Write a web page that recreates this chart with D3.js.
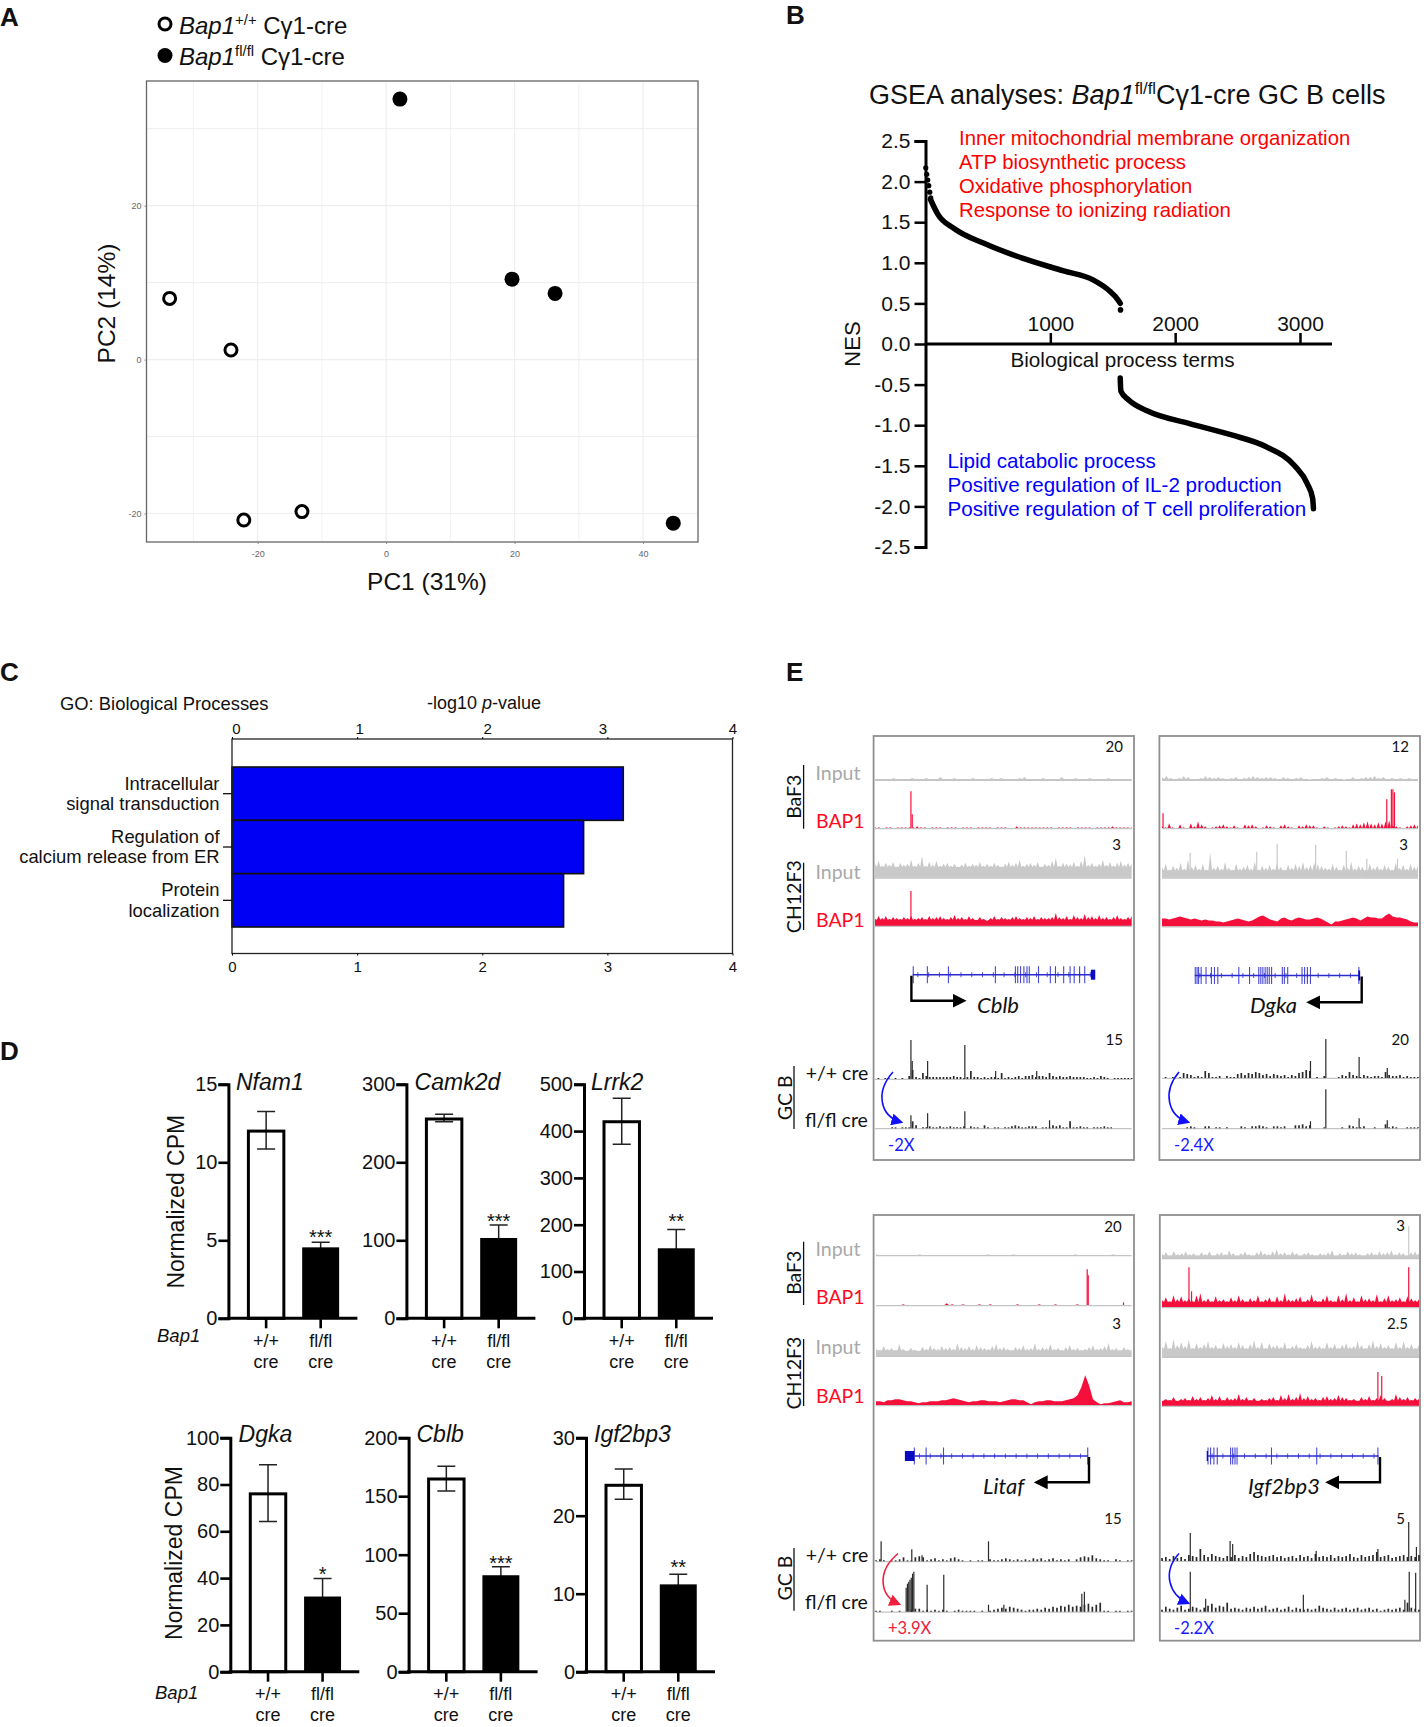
<!DOCTYPE html>
<html lang="en">
<head>
  <meta charset="UTF-8" />
  <title>Bap1 GC B cell figure</title>
  <script src="https://d3js.org/d3.v7.min.js"></script>
  <style>
    body { margin: 0; background: #fff; }
    svg { display: block; }
    text { font-family: "Liberation Sans", Arial, sans-serif; fill: #111; }
    .cal text, text.cal { font-family: Lato, "Open Sans", sans-serif; }
  </style>
</head>
<body>
  <svg id="fig" width="1428" height="1727"></svg>
  <script>
    // ---- panel A: PCA
    const pcaWtX = [-33.7, -24.15, -22.15, -13.1];
    const pcaWtY = [7.95, 1.25, -20.85, -19.75];
    const pcaKoX = [2.15, 19.6, 26.3, 44.7];
    const pcaKoY = [33.85, 10.45, 8.6, -21.25];
    const pcaXTicks = [-20, 0, 20, 40];
    const pcaYTicks = [-20, 0, 20];
    const pcaXGrid = [-30, -20, -10, 0, 10, 20, 30, 40];
    const pcaYGrid = [-20, -10, 0, 10, 20, 30];

    // ---- panel B: GSEA ranked NES
    const nesPosRank = [40, 98, 232, 468, 770, 1107, 1342, 1477, 1544, 1560];
    const nesPosVal = [1.78, 1.6, 1.42, 1.24, 1.06, 0.9, 0.79, 0.65, 0.54, 0.5];
    const nesNegRank = [1560, 1565, 1628, 1779, 2115, 2452, 2721, 2957, 3058, 3101, 3108];
    const nesNegVal = [-0.42, -0.58, -0.69, -0.825, -0.98, -1.12, -1.26, -1.5, -1.72, -1.9, -2.03];
    const nesTopDots = [2.17, 2.09, 2.02, 1.95, 1.87, 1.8];
    const nesYTicks = [2.5, 2, 1.5, 1, 0.5, 0, -0.5, -1, -1.5, -2, -2.5];
    const nesXTicks = [1000, 2000, 3000];
    const upTerms = ["Inner mitochondrial membrane organization", "ATP biosynthetic process", "Oxidative phosphorylation", "Response to ionizing radiation"];
    const downTerms = ["Lipid catabolic process", "Positive regulation of IL-2 production", "Positive regulation of T cell proliferation"];

    // ---- panel C: GO terms
    const goTerms = [["Intracellular", "signal transduction"], ["Regulation of", "calcium release from ER"], ["Protein", "localization"]];
    const goValues = [3.127, 2.81, 2.65];
    const goTicks = [0, 1, 2, 3, 4];

    // ---- panel D: normalized CPM bars
    const geneNames = ["Nfam1", "Camk2d", "Lrrk2", "Dgka", "Cblb", "Igf2bp3"];
    const geneMax = [15, 300, 500, 100, 200, 30];
    const geneTicks = [[0, 5, 10, 15], [0, 100, 200, 300], [0, 100, 200, 300, 400, 500], [0, 20, 40, 60, 80, 100], [0, 50, 100, 150, 200], [0, 10, 20, 30]];
    const wtMean = [12, 255.5, 420, 76, 164.7, 23.9];
    const wtHigh = [13.25, 261.5, 470, 88.4, 175.5, 26];
    const wtLow = [10.85, 252, 372, 64.2, 154.5, 22.1];
    const koMean = [4.5, 102, 148, 31.8, 81.8, 11.1];
    const koHigh = [4.87, 119.6, 190, 39.8, 89.7, 12.5];
    const koLow = [4.13, 84, 106, 24, 74, 9.7];
    const geneStars = ["***", "***", "**", "*", "***", "**"];

    // ---- panel E: tracks (heights in signal units, evenly spaced along the window)
    const cblbBafInput = [1,1,1,1,2,1,1,1,2,1,1,2,1,1,3,1,1,2,1,1,1,2,1,1,1,2,1,2,1,1,1,2,3,1,1,1,2,1,1,1,3,1,1,2,1,1,2,1,1,1,2,1,1,1,1,1];
    const cblbBafBap1 = [1,1,0,1,1,0,1,1,1,1,1,2,1,1,0,1,1,1,0,1,1,1,0,1,1,1,0,1,1,1,1,0,1,1,1,0,0,2,1,1,1,1,1,1,1,1,1,0,1,1,1,1,0,1,1,1,1,0,1,1,1,1,2,1,1,1,1,1];
    const cblbBafBap1Peaks = [[14, 37], [14.5, 14]];
    const cblbChInput = [14,17,12,15,13,16,11,15,13,14,18,12,15,22,12,16,13,17,12,14,15,12,14,11,13,15,12,14,13,16,12,14,12,15,13,11,14,16,13,15,18,12,14,15,13,16,11,14,13,17,20,12,15,14,13,16,12,17,23,13,15,12,14,18,13,16,12,15,17,13,15,14];
    const cblbChBap1 = [7,10,8,10,7,9,8,7,9,8,10,7,8,9,7,10,8,9,10,8,7,9,11,8,9,7,10,8,6,9,7,5,8,10,7,9,8,7,9,10,8,7,9,8,10,7,9,8,8,9,13,9,8,10,7,11,9,8,12,9,10,8,11,8,9,7,9,11,8,7,9,10];
    const cblbChBap1Peaks = [[14, 35]];
    const cblbGcWt = [0,1,0,1,1,0,1,0,1,0,3,9,2,1,6,3,2,2,2,2,2,2,2,3,2,2,1,2,8,2,2,1,2,1,2,2,1,6,1,2,1,2,3,1,3,3,4,2,3,3,2,6,3,2,3,2,2,3,2,2,2,2,1,1,2,1,3,2,1,0,1,1,1,1,1,1];
    const cblbGcWtPeaks = [[14, 39], [14.5, 18], [20.5, 18], [35, 34], [47, 8], [63, 8]];
    const cblbGcKo = [0,0,0,0,0,1,1,0,1,1,1,7,3,0,1,1,2,1,1,2,1,1,2,1,1,1,2,0,2,1,1,0,3,1,0,1,1,0,1,1,2,3,2,1,1,2,2,2,0,1,1,1,3,2,3,1,1,7,1,1,2,1,1,0,1,1,1,2,1,1,0,0,0,0,0,0];
    const cblbGcKoPeaks = [[14, 13], [20.5, 15], [35, 17], [68, 8]];

    const dgkaBafInput = [3,4,2,1,2,4,3,1,1,2,4,3,2,3,2,1,2,3,1,2,3,4,3,2,3,3,2,1,3,2,1,2,3,1,0,1,1,2,3,1,2,1,0,1,3,1,2,3,3,4,2,3,1,2,1,2,1,2,1,1];
    const dgkaBafBap1 = [2,1,5,1,0,4,1,0,5,2,7,4,2,0,1,2,3,4,2,1,3,1,0,4,3,4,2,0,1,3,2,1,0,3,4,2,1,0,3,2,4,3,3,1,0,2,1,0,1,2,3,2,1,4,5,4,6,7,5,4,6,5,7,8,3,2,1,0,2,3,4,3];
    const dgkaBafBap1Peaks = [[0.4, 15], [87.8, 29], [89.6, 39], [90.2, 39], [90.8, 36]];
    const dgkaChInput = [10,14,8,12,10,15,9,18,11,13,9,14,8,25,10,12,9,16,10,8,14,9,11,13,9,16,8,12,10,13,9,15,11,8,13,10,14,12,16,11,13,15,14,12,10,9,14,11,8,13,10,16,9,12,11,8,14,10,12,9,13,11,8,15,10,13,9,14,11,12];
    const dgkaChInputPeaks = [[11, 25], [37, 26], [45, 34], [60, 33], [72, 27], [80, 19], [92, 19]];
    const dgkaChBap1 = [8,8,7,8,9,10,9,8,7,8,7,6,7,6,6,5,5,4,5,6,7,8,7,6,5,6,8,10,11,9,7,6,5,8,9,7,6,8,9,8,7,7,8,9,8,6,4,2,5,5,6,7,8,9,8,6,8,10,9,9,8,8,11,13,10,9,9,8,7,5,4,4];
    const dgkaGcWt = [0,1,0,1,0,1,5,4,3,1,2,1,7,5,1,1,2,0,2,1,1,4,5,3,5,4,6,5,3,4,2,4,3,2,3,1,3,2,5,6,8,7,0,1,0,2,0,0,0,1,3,2,6,3,2,1,3,2,1,2,2,1,6,3,2,2,3,1,2,1,1,1];
    const dgkaGcWtPeaks = [[58, 17], [64, 39], [77, 21], [88, 10]];
    const dgkaGcKo = [0,0,0,0,0,0,0,1,2,1,0,0,2,2,0,1,1,0,1,0,0,0,2,1,0,2,2,3,2,1,0,2,2,1,2,0,0,3,3,4,2,3,0,0,0,1,0,0,0,0,1,0,3,2,1,1,2,0,0,1,0,0,4,1,2,1,0,0,1,1,1,1];
    const dgkaGcKoPeaks = [[58, 7], [64, 39], [77, 10], [88, 8]];

    const litafBafInput = [1,0,0,0,0,0,0,1,0,0,0,0,0,0,0,0,0,0,1,0,0,0,1,0,0,0,0,0,0,0,0,0,1,0,0,0,0,0,1,0,0,0];
    const litafBafBap1 = [0,0,0,0,0,1,0,0,0,0,0,0,0,2,1,0,1,0,0,1,0,1,0,0,0,0,1,0,0,0,1,0,0,1,0,0,0,1,0,0,0,0,0,0,0,0,0,0];
    const litafBafBap1Peaks = [[82.6, 36], [83, 30], [96.8, 3]];
    const litafChInput = [7,6,10,7,8,6,12,7,5,8,6,5,9,7,11,8,7,10,8,9,7,13,9,8,10,7,11,9,8,7,10,12,8,9,7,6,9,8,11,7,8,13,7,9,8,12,7,8,6,9,11,7,8,6,7,9,11,7,8,10,13,7,8,6,9,7,6];
    const litafChBap1 = [4,4,3,5,5,6,6,5,4,4,3,2,3,3,4,4,4,5,5,6,7,6,5,4,3,4,4,5,5,4,4,4,3,4,5,6,6,5,5,3,1,3,4,4,5,5,4,4,4,5,6,7,10,18,30,20,6,3,1,2,2,3,4,5,3,3,4];
    const litafGcWt = [1,2,1,0,1,1,2,4,1,1,4,5,4,1,2,3,1,2,1,3,4,2,1,0,1,0,1,1,0,2,1,1,2,3,2,1,2,1,2,1,3,2,3,1,2,3,1,2,1,2,0,2,4,5,4,6,3,2,1,1,0,2,1,0,1,1];
    const litafGcWtPeaks = [[2, 20], [14, 12], [44, 20], [18, 6]];
    const litafGcKo = [1,1,0,0,1,0,1,0,0,2,3,3,1,2,1,2,1,2,1,0,1,2,1,1,1,1,0,1,0,1,2,3,4,3,5,4,3,2,1,2,2,3,2,4,3,5,4,6,5,7,5,6,5,7,8,5,7,9,1,1,0,1,1,0,1,1];
    const litafGcKoPeaks = [[11.8, 24], [12.3, 28], [12.8, 30], [13.3, 32], [13.8, 34], [14.3, 38], [14.8, 40], [20, 27], [26.5, 37], [44, 7], [50, 7], [80.5, 18], [81.5, 20]];

    const igfBafInput = [4,6,3,7,4,5,7,4,5,3,6,4,7,3,5,6,4,8,5,3,5,7,4,3,6,8,5,4,7,9,5,6,4,7,5,3,5,6,4,3,5,4,6,8,3,5,4,7,5,6,4,3,5,6,4,7,5,6,8,4,6,5,3,6,7,5];
    const igfBafInputPeaks = [[96, 32]];
    const igfBafBap1 = [7,10,6,12,8,11,7,9,6,12,14,7,9,6,11,7,8,6,10,7,12,8,6,9,7,12,6,8,10,6,11,7,14,8,7,9,11,6,8,13,7,6,9,12,7,6,12,8,14,7,10,6,12,8,9,7,13,6,9,12,7,8,10,6,11,9,7,8];
    const igfBafBap1Peaks = [[10.5, 40], [11.5, 16], [96, 40]];
    const igfChInput = [10,16,9,18,12,15,11,17,9,14,10,13,16,10,12,9,14,11,13,10,15,12,9,13,17,10,15,9,14,11,12,10,15,9,11,13,10,9,12,16,10,11,9,15,10,13,9,12,14,10,11,16,12,9,13,17,11,14,10,12,9,15,10,16,10,13,9,12];
    const igfChBap1 = [5,7,6,9,5,7,8,6,10,7,9,6,8,11,7,10,6,9,7,8,12,7,9,6,8,5,7,6,8,9,6,11,8,12,7,9,13,8,10,7,8,6,9,10,7,8,11,9,8,6,7,5,9,7,10,6,8,11,8,5,7,12,9,7,9,6,8,7];
    const igfChBap1Peaks = [[84, 34], [85.5, 30]];
    const igfGcWt = [3,4,2,5,3,4,2,6,5,4,12,6,4,7,5,4,3,5,4,6,3,5,4,7,9,6,5,4,5,6,4,5,3,4,5,3,6,4,5,3,7,4,5,4,6,3,5,4,5,7,4,3,6,4,5,6,9,4,5,6,3,4,5,6,4,5,4,6];
    const igfGcWtPeaks = [[11, 28], [26.5, 20], [27.5, 17], [60, 10], [84, 12], [96, 39], [99, 14]];
    const igfGcKo = [2,5,3,2,4,6,2,3,5,4,2,4,6,8,4,6,5,9,3,4,3,2,4,3,5,3,4,6,2,3,4,2,3,5,2,4,3,2,3,2,3,6,4,3,2,4,2,3,4,2,3,4,2,3,4,2,3,1,2,3,2,3,4,2,9,4,3,2];
    const igfGcKoPeaks = [[11, 40], [17, 13], [55, 17], [94.5, 12], [96.2, 40], [98.7, 39]];

    // gene models: exon positions as percent of the track window
    const cblbExons = [14.9, 20.4, 28.6, 46.9, 54.7, 55.6, 56.7, 58, 59.2, 60.1, 63.7, 68.3, 70.3, 73.5, 76, 77.6, 79.7, 81.7];
    const dgkaExons = [13, 13.7, 14.3, 15.3, 17.2, 19.3, 20.5, 21.8, 30, 34.2, 37.8, 38.6, 39.4, 40.3, 41.1, 41.9, 42.8, 47, 47.8, 49.1, 54.7, 55.7, 56.8, 58, 76.9];
    const litafExons = [15, 19.6, 26.4, 82.8];
    const igfExons = [17.9, 18.9, 20.2, 21.5, 26.7, 27.5, 28.4, 29.2, 42.6, 60.2, 84];

    const svg = d3.select("#fig");
    const hyphen = f => d => f(d).replace("\u2212", "-");

    function label(g, x, y, str, size, opts) {
      opts = opts || {};
      const t = g.append("text")
        .attr("x", x).attr("y", y)
        .attr("font-size", size)
        .attr("dy", "0.35em")
        .attr("text-anchor", opts.anchor || "start")
        .text(str);
      if (opts.italic) t.attr("font-style", "italic");
      if (opts.weight) t.attr("font-weight", opts.weight);
      if (opts.color) t.style("fill", opts.color);
      if (opts.cls) t.attr("class", opts.cls);
      if (opts.rotate) t.attr("transform", "rotate(-90 " + x + " " + y + ")");
      return t;
    }

    // baseline text with italic / superscript runs
    function rich(g, x, y, size, runs) {
      const t = g.append("text").attr("x", x).attr("y", y).attr("font-size", size);
      let up = 0;
      runs.forEach(r => {
        const s = t.append("tspan").text(r.t);
        if (r.i) s.attr("font-style", "italic");
        if (r.sup) {
          s.attr("font-size", size * 0.62).attr("dy", -size * 0.36);
          up = size * 0.36;
        } else if (up) {
          s.attr("dy", up);
          up = 0;
        }
      });
      return t;
    }

    // ---------------- panel letters
    [["A", 0, 17], ["B", 786, 15], ["C", 0, 672], ["D", 0, 1051], ["E", 786, 672]].forEach(d => {
      label(svg, d[1], d[2], d[0], 26, { weight: "bold" });
    });

    // ---------------- A
    (function () {
      const g = svg.append("g");
      const x = d3.scaleLinear().domain([-37.3, 48.55]).range([146.5, 698]);
      const y = d3.scaleLinear().domain([-23.7, 36.2]).range([542, 81]);
      g.append("g").selectAll("line").data(pcaXGrid).join("line")
        .attr("x1", d => x(d)).attr("x2", d => x(d)).attr("y1", y.range()[0]).attr("y2", y.range()[1])
        .attr("stroke", "#eeeeee").attr("stroke-width", d => d % 20 === 0 ? 1.2 : 0.8);
      g.append("g").selectAll("line").data(pcaYGrid).join("line")
        .attr("y1", d => y(d)).attr("y2", d => y(d)).attr("x1", x.range()[0]).attr("x2", x.range()[1])
        .attr("stroke", "#eeeeee").attr("stroke-width", d => d % 20 === 0 ? 1.2 : 1);
      g.append("rect").attr("x", 146.5).attr("y", 81).attr("width", 551.5).attr("height", 461)
        .attr("fill", "none").attr("stroke", "#666").attr("stroke-width", 1.3);

      const xAxis = g.append("g").attr("transform", "translate(0,542)")
        .call(d3.axisBottom(x).tickValues(pcaXTicks).tickFormat(hyphen(d3.format("d"))).tickSize(2).tickPadding(7));
      const yAxis = g.append("g").attr("transform", "translate(146.5,0)")
        .call(d3.axisLeft(y).tickValues(pcaYTicks).tickFormat(hyphen(d3.format("d"))).tickSize(2).tickPadding(3));
      [xAxis, yAxis].forEach(a => {
        a.select(".domain").remove();
        a.selectAll("line").attr("stroke", "#888");
        a.selectAll("text").attr("font-size", 9).style("fill", "#666").attr("font-family", "Liberation Sans");
      });

      g.append("g").selectAll("circle").data(pcaWtX).join("circle")
        .attr("cx", d => x(d)).attr("cy", (d, i) => y(pcaWtY[i])).attr("r", 6)
        .attr("fill", "#fff").attr("stroke", "#000").attr("stroke-width", 3);
      g.append("g").selectAll("circle").data(pcaKoX).join("circle")
        .attr("cx", d => x(d)).attr("cy", (d, i) => y(pcaKoY[i])).attr("r", 7.5).attr("fill", "#000");

      g.append("circle").attr("cx", 165).attr("cy", 24).attr("r", 6).attr("fill", "#fff").attr("stroke", "#000").attr("stroke-width", 3);
      g.append("circle").attr("cx", 165).attr("cy", 55.5).attr("r", 7.5).attr("fill", "#000");
      rich(g, 179, 34, 24, [{ t: "Bap1", i: 1 }, { t: "+/+", sup: 1 }, { t: " Cγ1-cre" }]);
      rich(g, 179, 65, 24, [{ t: "Bap1", i: 1 }, { t: "fl/fl", sup: 1 }, { t: " Cγ1-cre" }]);
      label(g, 427, 581, "PC1 (31%)", 24.5, { anchor: "middle" });
      label(g, 106, 303.5, "PC2 (14%)", 24.5, { anchor: "middle", rotate: true });
    })();

    // ---------------- B
    (function () {
      const g = svg.append("g");
      const x = d3.scaleLinear().domain([0, 3000]).range([925.5, 1300]);
      const y = d3.scaleLinear().domain([-2.5, 2.5]).range([547, 141]);
      const line = d3.line().x(d => x(d[0])).y(d => y(d[1])).curve(d3.curveMonotoneX);

      g.append("path").attr("d", line(nesPosRank.map((r, i) => [r, nesPosVal[i]])))
        .attr("fill", "none").attr("stroke", "#000").attr("stroke-width", 5.5).attr("stroke-linecap", "round");
      g.append("path").attr("d", line(nesNegRank.map((r, i) => [r, nesNegVal[i]])))
        .attr("fill", "none").attr("stroke", "#000").attr("stroke-width", 5.5).attr("stroke-linecap", "round");
      g.append("g").selectAll("circle").data(nesTopDots).join("circle")
        .attr("cx", (d, i) => x(2 + i * 8)).attr("cy", d => y(d)).attr("r", 2.6).attr("fill", "#000");
      g.append("circle").attr("cx", x(1562)).attr("cy", y(0.42)).attr("r", 2.8).attr("fill", "#000");

      const yAxis = g.append("g").attr("transform", "translate(925.5,0)")
        .call(d3.axisLeft(y).tickValues(nesYTicks).tickFormat(hyphen(d3.format(".1f"))).tickSize(11).tickPadding(4));
      yAxis.select(".domain").attr("stroke", "#000").attr("stroke-width", 3);
      const xAxis = g.append("g").attr("transform", "translate(0," + y(0) + ")")
        .call(d3.axisTop(x).tickValues(nesXTicks).tickFormat(d3.format("d")).tickSize(11).tickPadding(2));
      xAxis.select(".domain").remove();
      g.append("line").attr("x1", 925.5).attr("x2", 1332).attr("y1", y(0)).attr("y2", y(0)).attr("stroke", "#000").attr("stroke-width", 3);
      [xAxis, yAxis].forEach(a => {
        a.selectAll(".tick line").attr("stroke", "#000").attr("stroke-width", 2.5);
        a.selectAll("text").attr("font-size", 21).style("fill", "#111").attr("font-family", "Liberation Sans");
      });

      rich(g, 869, 104, 27, [{ t: "GSEA analyses: " }, { t: "Bap1", i: 1 }, { t: "fl/fl", sup: 1 }, { t: "Cγ1-cre GC B cells" }]);
      label(g, 852, 344, "NES", 22, { anchor: "middle", rotate: true });
      label(g, 1122.5, 360, "Biological process terms", 20.7, { anchor: "middle" });
      const upY = [138, 162, 186, 210];
      upTerms.forEach((t, i) => label(g, 959, upY[i], t, 20.3, { color: "#ff0000" }));
      const downY = [461, 485, 509];
      downTerms.forEach((t, i) => label(g, 947.5, downY[i], t, 20.6, { color: "#0000ff" }));
    })();

    // ---------------- C
    (function () {
      const g = svg.append("g");
      const x = d3.scaleLinear().domain([0, 4]).range([232, 732.5]);
      const y = d3.scaleBand().domain(goTerms.map(d => d[0])).range([767, 927]).padding(0);
      g.append("g").selectAll("rect").data(goValues).join("rect")
        .attr("x", x(0)).attr("y", (d, i) => y(goTerms[i][0]))
        .attr("width", d => x(d) - x(0)).attr("height", y.bandwidth())
        .attr("fill", "#0000f5").attr("stroke", "#111").attr("stroke-width", 1.6);
      g.append("rect").attr("x", 232).attr("y", 739).attr("width", 500.5).attr("height", 214.5)
        .attr("fill", "none").attr("stroke", "#222").attr("stroke-width", 1.3);
      const bottom = g.append("g").attr("transform", "translate(0,953.5)")
        .call(d3.axisBottom(x).tickValues(goTicks).tickFormat(d3.format("d")).tickSize(2).tickPadding(6));
      const topA = g.append("g").attr("transform", "translate(0,739)")
        .call(d3.axisTop(x).tickValues(goTicks).tickFormat(d3.format("d")).tickSize(2).tickPadding(3));
      [bottom, topA].forEach(a => {
        a.select(".domain").remove();
        a.selectAll("text").attr("font-size", 15).style("fill", "#111").attr("font-family", "Liberation Sans");
      });
      // top labels sit slightly off their ticks in the figure
      const topShift = [4, 2, 5, -5, 0];
      topA.selectAll("text").attr("dx", (d, i) => topShift[i]);
      goTerms.forEach((t, i) => {
        const c = y(t[0]) + y.bandwidth() / 2;
        g.append("line").attr("x1", 223).attr("x2", 232).attr("y1", c).attr("y2", c).attr("stroke", "#111").attr("stroke-width", 1.3);
        label(g, 219.5, c - 10.5, t[0], 18.4, { anchor: "end" });
        label(g, 219.5, c + 10, t[1], 18.4, { anchor: "end" });
      });
      label(g, 60, 704, "GO: Biological Processes", 18.4);
      const tt = g.append("text").attr("x", 427).attr("y", 709).attr("font-size", 18);
      tt.append("tspan").text("-log10 ");
      tt.append("tspan").attr("font-style", "italic").text("p");
      tt.append("tspan").text("-value");
    })();

    // ---------------- D
    const barAxisX = [228.4, 406.4, 584, 230.3, 408.6, 586];
    const barTop = [1084.3, 1084.3, 1084.3, 1437.7, 1437.7, 1437.7];
    const barBase = [1318.3, 1318.3, 1318.3, 1671.7, 1671.7, 1671.7];
    const titleX = [236, 414.6, 591, 238.6, 416.5, 594];
    const titleY = [1082, 1082, 1082, 1434, 1434, 1434];
    const starY = [1233, 1217, 1217, 1570, 1559, 1563];

    geneNames.forEach((name, k) => {
      const g = svg.append("g");
      const ax = barAxisX[k];
      const y = d3.scaleLinear().domain([0, geneMax[k]]).range([barBase[k], barTop[k]]);
      const x = d3.scaleBand().domain(["+/+", "fl/fl"]).range([ax + 20, ax + 110]).paddingInner(0.35);
      const wtX = x("+/+") + x.bandwidth() / 2;
      const koX = x("fl/fl") + x.bandwidth() / 2;

      [[wtX, wtHigh[k], wtLow[k]], [koX, koHigh[k], koLow[k]]].forEach(e => {
        g.append("path")
          .attr("d", "M" + (e[0] - 9) + "," + y(e[1]) + "H" + (e[0] + 9) + "M" + e[0] + "," + y(e[1]) + "V" + y(e[2]) + "M" + (e[0] - 9) + "," + y(e[2]) + "H" + (e[0] + 9))
          .attr("fill", "none").attr("stroke", "#222").attr("stroke-width", 1.5);
      });
      g.append("rect").attr("x", x("+/+")).attr("y", y(wtMean[k])).attr("width", x.bandwidth()).attr("height", y(0) - y(wtMean[k]))
        .attr("fill", "none").attr("stroke", "#000").attr("stroke-width", 3);
      g.append("rect").attr("x", x("fl/fl")).attr("y", y(koMean[k])).attr("width", x.bandwidth()).attr("height", y(0) - y(koMean[k]))
        .attr("fill", "#000").attr("stroke", "#000").attr("stroke-width", 1.5);

      const yAxis = g.append("g").attr("transform", "translate(" + ax + ",0)")
        .call(d3.axisLeft(y).tickValues(geneTicks[k]).tickSize(10).tickPadding(1));
      yAxis.select(".domain").attr("stroke", "#000").attr("stroke-width", 3);
      yAxis.selectAll("line").attr("stroke", "#000").attr("stroke-width", 2.6);
      yAxis.selectAll("text").attr("font-size", 20).style("fill", "#111").attr("font-family", "Liberation Sans");

      g.append("line").attr("x1", ax - 1.5).attr("x2", ax + 129).attr("y1", y(0)).attr("y2", y(0)).attr("stroke", "#000").attr("stroke-width", 3);
      [wtX, koX].forEach(c => {
        g.append("line").attr("x1", c).attr("x2", c).attr("y1", y(0)).attr("y2", y(0) + 10).attr("stroke", "#000").attr("stroke-width", 2.6);
      });

      label(g, titleX[k], titleY[k], name, 23, { italic: true });
      label(g, koX, starY[k] + 4, geneStars[k], 20, { anchor: "middle" });
      const catY = barBase[k] + 22.4;
      label(g, wtX, catY, "+/+", 18, { anchor: "middle" });
      label(g, wtX, catY + 21, "cre", 18, { anchor: "middle" });
      label(g, koX, catY, "fl/fl", 18, { anchor: "middle" });
      label(g, koX, catY + 21, "cre", 18, { anchor: "middle" });
    });
    label(svg, 157, 1336, "Bap1", 18.5, { italic: true });
    label(svg, 155, 1693, "Bap1", 18.5, { italic: true });
    label(svg, 175.7, 1201.7, "Normalized CPM", 23, { anchor: "middle", rotate: true });
    label(svg, 174, 1553, "Normalized CPM", 23, { anchor: "middle", rotate: true });

    // ---------------- E
    const inputGrey = "#c9c9c9";
    const bapRed = "#f5103c";
    const gcBlack = "#2a2a2a";

    // spiky tracks draw every value as a narrow spike over a floor
    function areaTrack(g, win, base, values, peaks, color, smooth) {
      const x = d3.scaleLinear().domain([0, 100]).range(win);
      const y = d3.scaleLinear().domain([0, 50]).range([base, base - 50]);
      const step = 100 / (values.length - 1);
      const floor = smooth ? 0 : d3.quantile(values, 0.1) * 0.9;
      const pts = smooth
        ? values.map((v, i) => [i * step, v])
        : values.flatMap((v, i) => [[i * step - step / 2, floor], [i * step, v]]);
      const area = d3.area().x(d => x(Math.max(0, d[0]))).y0(y(0)).y1(d => y(d[1]));
      g.append("path").attr("d", area(pts)).attr("fill", color);
      g.append("g").selectAll("line").data(peaks || []).join("line")
        .attr("x1", d => x(d[0])).attr("x2", d => x(d[0])).attr("y1", y(0)).attr("y2", d => y(d[1]))
        .attr("stroke", color).attr("stroke-width", 1.2);
      g.append("line").attr("x1", win[0]).attr("x2", win[1]).attr("y1", base + 0.4).attr("y2", base + 0.4)
        .attr("stroke", "#c4c4c4").attr("stroke-width", 1.2);
    }

    function tickTrack(g, win, base, values, peaks, color) {
      const x = d3.scaleLinear().domain([0, 100]).range(win);
      const y = d3.scaleLinear().domain([0, 50]).range([base, base - 50]);
      g.append("line").attr("x1", win[0]).attr("x2", win[1]).attr("y1", base + 0.4).attr("y2", base + 0.4)
        .attr("stroke", "#c4c4c4").attr("stroke-width", 1.2);
      g.append("g").selectAll("line").data(values).join("line")
        .attr("x1", (d, i) => x(i / (values.length - 1) * 100)).attr("x2", (d, i) => x(i / (values.length - 1) * 100))
        .attr("y1", y(0)).attr("y2", d => y(d))
        .attr("stroke", color).attr("stroke-width", 1.7);
      g.append("g").selectAll("line.peak").data(peaks || []).join("line").attr("class", "peak")
        .attr("x1", d => x(d[0])).attr("x2", d => x(d[0])).attr("y1", y(0)).attr("y2", d => y(d[1]))
        .attr("stroke", color).attr("stroke-width", 1.2);
    }

    const boxes = [
      {
        frame: [873.6, 736, 1134, 1160], win: [875, 1131.7], bases: [780, 828.3, 877.7, 926, 1079, 1128.3],
        tracks: [[cblbBafInput], [cblbBafBap1, cblbBafBap1Peaks], [cblbChInput], [cblbChBap1, cblbChBap1Peaks], [cblbGcWt, cblbGcWtPeaks], [cblbGcKo, cblbGcKoPeaks]],
        gene: "Cblb", exons: cblbExons, geneLine: [14.7, 84.1], geneEnd: [84.1, 85.8], geneY: 974.7, strand: 1,
        hook: 911.4, arrowTip: 961.8, arrowY: 1000.7, nameX: 998, nameY: 1005,
        nums: [["20", 1123, 747], ["3", 1121, 845], ["15", 1123, 1040]],
        fold: ["-2X", 888, 1145, "#1a1aff"], curve: "M893,1072 C875,1092 880,1116 901,1122", curveColor: "#1010ff"
      },
      {
        frame: [1159.4, 736, 1420, 1160], win: [1162, 1418], bases: [780, 828.3, 877.7, 926.5, 1078, 1128.3],
        tracks: [[dgkaBafInput], [dgkaBafBap1, dgkaBafBap1Peaks], [dgkaChInput, dgkaChInputPeaks], [dgkaChBap1, null, true], [dgkaGcWt, dgkaGcWtPeaks], [dgkaGcKo, dgkaGcKoPeaks]],
        gene: "Dgka", exons: dgkaExons, geneLine: [12.8, 77.2], geneEnd: [76.7, 77.4], geneY: 975.5, strand: -1,
        hook: 1361.7, arrowTip: 1311, arrowY: 1002.3, nameX: 1273.5, nameY: 1005,
        nums: [["12", 1409, 747], ["3", 1408, 845], ["20", 1409, 1040]],
        fold: ["-2.4X", 1174, 1145, "#1a1aff"], curve: "M1179,1072 C1162,1092 1168,1116 1188,1122", curveColor: "#1010ff"
      },
      {
        frame: [873.6, 1215, 1134, 1640.7], win: [876, 1131.7], bases: [1255.3, 1305.3, 1356, 1405.3, 1561.3, 1611.7],
        tracks: [[litafBafInput], [litafBafBap1, litafBafBap1Peaks], [litafChInput], [litafChBap1, null, true], [litafGcWt, litafGcWtPeaks], [litafGcKo, litafGcKoPeaks]],
        gene: "Litaf", exons: litafExons, geneLine: [15, 83], geneEnd: [11.3, 15], geneY: 1456, strand: -1,
        hook: 1089, arrowTip: 1038.5, arrowY: 1482.3, nameX: 1003.7, nameY: 1486,
        nums: [["20", 1121.7, 1227], ["3", 1121, 1324], ["15", 1121.7, 1519]],
        fold: ["+3.9X", 888, 1628.7, "#f0203c"], curve: "M898,1553.5 C876,1572 880,1596 899,1604", curveColor: "#f0203c"
      },
      {
        frame: [1159.8, 1215, 1420, 1640.7], win: [1162, 1419], bases: [1258.3, 1307.3, 1357, 1406, 1561, 1611.7],
        tracks: [[igfBafInput, igfBafInputPeaks], [igfBafBap1, igfBafBap1Peaks], [igfChInput], [igfChBap1, igfChBap1Peaks], [igfGcWt, igfGcWtPeaks], [igfGcKo, igfGcKoPeaks]],
        gene: "Igf2bp3", exons: igfExons, geneLine: [17.5, 84.3], geneEnd: [17.4, 17.9], geneY: 1456, strand: -1,
        hook: 1380, arrowTip: 1330, arrowY: 1482.3, nameX: 1284, nameY: 1486,
        nums: [["3", 1405, 1226], ["2.5", 1408, 1324], ["5", 1405, 1519]],
        fold: ["-2.2X", 1174, 1628.7, "#1a1aff"], curve: "M1179,1553.5 C1162,1572 1169,1595 1188,1603", curveColor: "#1010ff"
      }
    ];

    const defs = svg.append("defs");
    [["#1010ff", "headBlue", 12], ["#f0203c", "headRed", 12], ["#000", "headBlack", 14]].forEach(m => {
      defs.append("marker").attr("id", m[1]).attr("viewBox", "0 0 10 10").attr("refX", 8).attr("refY", 5)
        .attr("markerWidth", m[2]).attr("markerHeight", m[2]).attr("markerUnits", "userSpaceOnUse").attr("orient", "auto")
        .append("path").attr("d", "M0,0L10,5L0,10Z").attr("fill", m[0]);
    });

    boxes.forEach(b => {
      const g = svg.append("g");
      g.append("rect").attr("x", b.frame[0]).attr("y", b.frame[1]).attr("width", b.frame[2] - b.frame[0]).attr("height", b.frame[3] - b.frame[1])
        .attr("fill", "none").attr("stroke", "#8f8f8f").attr("stroke-width", 1.8);
      const colors = [inputGrey, bapRed, inputGrey, bapRed];
      b.tracks.forEach((t, i) => {
        if (i < 4) areaTrack(g, b.win, b.bases[i], t[0], t[1], colors[i], t[2]);
        else tickTrack(g, b.win, b.bases[i], t[0], t[1], gcBlack);
      });

      // gene model
      const gx = d3.scaleLinear().domain([0, 100]).range(b.win);
      const blue = "#2a2ad0";
      g.append("line").attr("x1", gx(b.geneLine[0])).attr("x2", gx(b.geneLine[1])).attr("y1", b.geneY).attr("y2", b.geneY).attr("stroke", blue).attr("stroke-width", 1.4);
      g.append("g").selectAll("line").data(d3.range(b.geneLine[0] + 2, b.geneLine[1], 4.2)).join("line")
        .attr("x1", d => gx(d)).attr("x2", d => gx(d)).attr("y1", b.geneY - 2.5).attr("y2", b.geneY + 2.5).attr("stroke", blue).attr("stroke-width", 0.8);
      g.append("g").selectAll("line.ex").data(b.exons).join("line").attr("class", "ex")
        .attr("x1", d => gx(d)).attr("x2", d => gx(d)).attr("y1", b.geneY - 8.5).attr("y2", b.geneY + 8.5)
        .attr("stroke", blue).attr("stroke-width", 1.1).attr("opacity", 0.85);
      g.append("rect").attr("x", gx(b.geneEnd[0])).attr("y", b.geneY - 5).attr("width", gx(b.geneEnd[1]) - gx(b.geneEnd[0])).attr("height", 10).attr("fill", "#0a0ac0");

      // TSS arrow
      g.append("path").attr("d", "M" + b.hook + "," + (b.geneY + 1) + "V" + b.arrowY + "H" + (b.arrowTip + b.strand * 2))
        .attr("fill", "none").attr("stroke", "#000").attr("stroke-width", 2.4).attr("marker-end", "url(#headBlack)");
      label(g, b.nameX, b.nameY, b.gene, 22, { anchor: "middle", italic: true, cls: "cal" });

      b.nums.forEach(n => label(g, n[1], n[2], n[0], 15, { anchor: "end", cls: "cal" }));
      label(g, b.fold[1], b.fold[2], b.fold[0], 16.5, { color: b.fold[3], cls: "cal" });
      g.append("path").attr("d", b.curve).attr("fill", "none").attr("stroke", b.curveColor).attr("stroke-width", 1.6)
        .attr("marker-end", "url(" + (b.curveColor === "#f0203c" ? "#headRed" : "#headBlue") + ")");
    });

    // row labels left of the track boxes
    const rowSets = [
      { input: [773, 871.7], bap: [821, 920], baf: [796.7, 765, 828.7], ch: [896.7, 862.7, 930], gc: [1097.7, 1066, 1129], wt: 1073, ko: 1120 },
      { input: [1249.5, 1347.5], bap: [1297.5, 1396.2], baf: [1272.7, 1241.7, 1305], ch: [1373, 1339, 1406], gc: [1578, 1548, 1610.7], wt: 1554.7, ko: 1601.7 }
    ];
    rowSets.forEach(r => {
      const g = svg.append("g");
      r.input.forEach(y => label(g, 815.5, y, "Input", 19.5, { color: "#a8a8a8", cls: "cal" }));
      r.bap.forEach(y => label(g, 816, y, "BAP1", 19.5, { color: "#ff0a1e", cls: "cal" }));
      label(g, 794, r.baf[0], "BaF3", 19.5, { anchor: "middle", rotate: true, cls: "cal" });
      label(g, 794, r.ch[0], "CH12F3", 19.5, { anchor: "middle", rotate: true, cls: "cal" });
      label(g, 784.7, r.gc[0], "GC B", 19.5, { anchor: "middle", rotate: true, cls: "cal" });
      [[803.6, r.baf], [803.6, r.ch], [794, r.gc]].forEach(l => {
        g.append("line").attr("x1", l[0]).attr("x2", l[0]).attr("y1", l[1][1]).attr("y2", l[1][2]).attr("stroke", "#111").attr("stroke-width", 1.3);
      });
      label(g, 805.7, r.wt, "+/+ cre", 19.5, { cls: "cal" });
      label(g, 805, r.ko, "fl/fl cre", 19.5, { cls: "cal" });
    });
  </script>
</body>
</html>
